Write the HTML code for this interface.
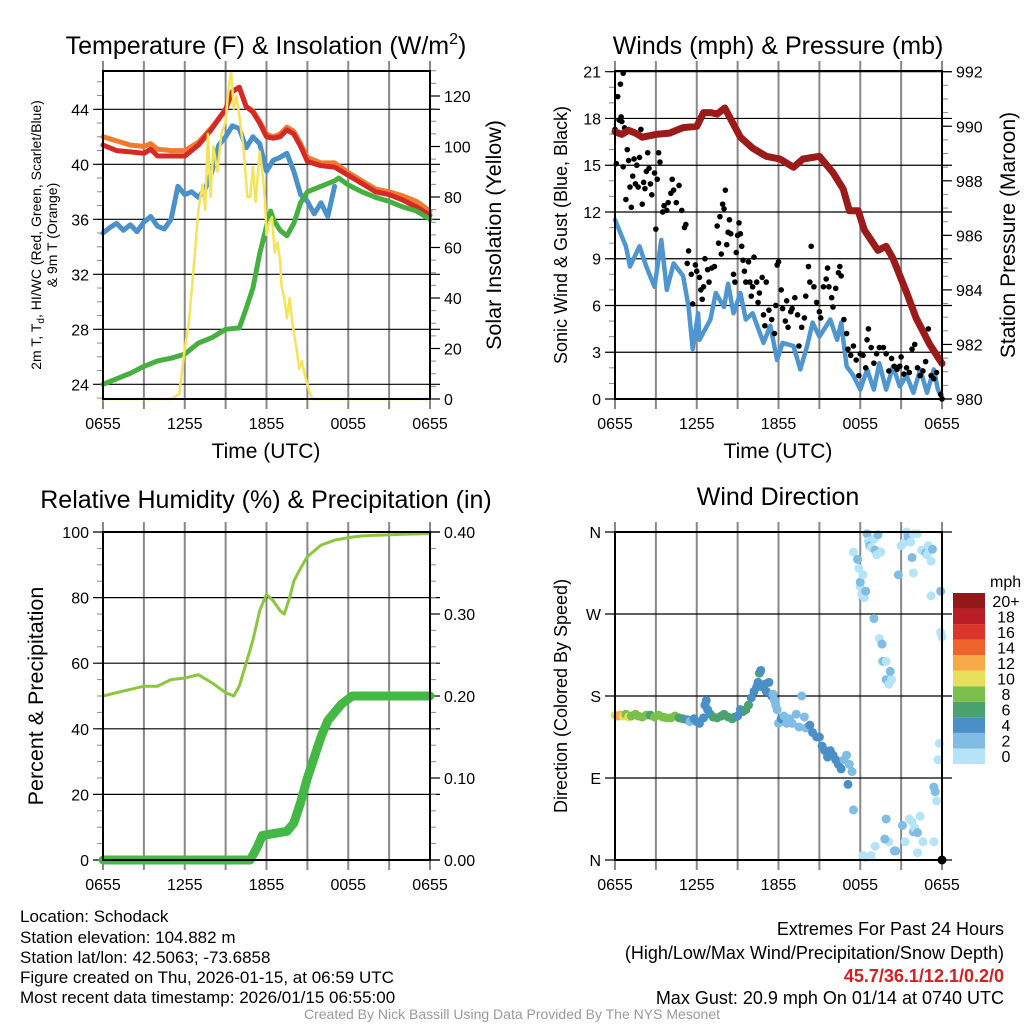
<!DOCTYPE html>
<html><head><meta charset="utf-8"><style>
body{margin:0;background:#fff;}
svg{display:block;font-family:"Liberation Sans",Arial,sans-serif;}
</style></head><body>
<svg id="c" width="1024" height="1024" viewBox="0 0 1024 1024">
<g id="g"></g>
<text x="266" y="54" font-size="25" text-anchor="middle">Temperature (F) &amp; Insolation (W/m<tspan dy="-10" font-size="16">2</tspan><tspan dy="10">)</tspan></text>
<text x="778" y="54" font-size="25" text-anchor="middle">Winds (mph) &amp; Pressure (mb)</text>
<text x="266" y="508" font-size="25" text-anchor="middle">Relative Humidity (%) &amp; Precipitation (in)</text>
<text x="778" y="505" font-size="25" text-anchor="middle">Wind Direction</text>
<text x="266" y="458" font-size="21" text-anchor="middle">Time (UTC)</text>
<text x="778" y="458" font-size="21" text-anchor="middle">Time (UTC)</text>
<text transform="translate(41,235) rotate(-90)" font-size="14" text-anchor="middle">2m T, T<tspan dy="3" font-size="10">d</tspan><tspan dy="-3">, HI/WC (Red, Green, Scarlet/Blue)</tspan></text>
<text transform="translate(57,235) rotate(-90)" font-size="14" text-anchor="middle">&amp; 9m T (Orange)</text>
<text transform="translate(501,235) rotate(-90)" font-size="21.5" text-anchor="middle">Solar Insolation (Yellow)</text>
<text transform="translate(567,235) rotate(-90)" font-size="18" text-anchor="middle">Sonic Wind &amp; Gust (Blue, Black)</text>
<text transform="translate(1015,235) rotate(-90)" font-size="21" text-anchor="middle">Station Pressure (Maroon)</text>
<text transform="translate(43,696) rotate(-90)" font-size="21.5" text-anchor="middle">Percent &amp; Precipitation</text>
<text transform="translate(567,696) rotate(-90)" font-size="18" text-anchor="middle">Direction (Colored By Speed)</text>
<text x="990" y="587" font-size="16">mph</text>
<g font-size="17">
<text x="20" y="922">Location: Schodack</text>
<text x="20" y="943">Station elevation: 104.882 m</text>
<text x="20" y="963">Station lat/lon: 42.5063; -73.6858</text>
<text x="20" y="983">Figure created on Thu, 2026-01-15, at 06:59 UTC</text>
<text x="20" y="1003">Most recent data timestamp: 2026/01/15 06:55:00</text>
</g>
<g font-size="18" text-anchor="end">
<text x="1004" y="935">Extremes For Past 24 Hours</text>
<text x="1004" y="959">(High/Low/Max Wind/Precipitation/Snow Depth)</text>
<text x="1004" y="982" fill="#d42020" font-weight="bold">45.7/36.1/12.1/0.2/0</text>
<text x="1004" y="1004">Max Gust: 20.9 mph On 01/14 at 0740 UTC</text>
</g>
<text x="512" y="1019" font-size="14" fill="#999" text-anchor="middle">Created By Nick Bassill Using Data Provided By The NYS Mesonet</text>
</svg>
<script>
// ---- data (hours since 0655 UTC) ----
const xTickLabels=["0655","1255","1855","0055","0655"];
const redH=[0,1,2,3,3.5,4,5,6,7,8,9,9.5,10,10.5,11,11.5,12,12.5,13,13.5,14,14.5,15,16,17,18,19,20,21,22,23,24];
const redV=[41.4,41,40.9,40.8,41.1,40.6,40.6,40.6,41.4,42.6,44,45.3,45.6,44.2,43.8,43.0,42,41.9,42,42.5,42.2,41.3,40.2,39.9,39.8,39.2,38.6,38,37.8,37.4,36.9,36.3];
const orangeV=[42,41.7,41.4,41.3,41.5,41.1,41,41,41.6,42.7,44,45.3,45.6,44.2,43.9,43.1,42.2,42,42.2,42.7,42.4,41.5,40.5,40.1,40.1,39.4,38.8,38.2,38,37.7,37.3,36.6];
const blueH=[0,0.5,1,1.5,2,2.5,3,3.5,4,4.5,5,5.5,6,6.5,7,7.5,8,8.5,9,9.5,10,10.5,11,11.5,12,12.5,13,13.5,14,14.5,15,15.5,16,16.5,17];
const blueV=[35,35.4,35.7,35.2,35.6,35.1,35.8,36.2,35.5,35.3,36,38.4,37.8,38,37.6,38.2,39.5,41.4,42,42.8,42.6,41.2,42,41.5,39.5,40.3,40.5,40.8,39.5,37.8,37.3,36.4,37.2,36.2,38.4];
const dewH=[0,1,2,3,4,5,6,7,8,9,10,10.5,11,11.5,12,12.3,12.5,13,13.5,14,14.5,15,16,17,17.3,18,19,20,21,22,23,24];
const dewV=[24,24.4,24.8,25.3,25.7,25.9,26.2,27,27.4,28,28.1,29.5,31,33.5,35.5,36.6,36,35.2,34.8,35.7,37.2,38,38.4,38.8,39,38.5,38,37.6,37.3,36.9,36.6,36];
const solH=[0,5,5.6,6,6.3,6.7,7,7.3,7.5,7.7,7.9,8.1,8.4,8.7,9,9.2,9.4,9.6,9.8,10,10.3,10.6,10.8,11,11.2,11.5,11.7,11.9,12,12.2,12.4,12.6,12.8,13,13.1,13.3,13.5,13.7,13.9,14.2,14.4,14.6,14.8,15.2,15.4,24];
const solV=[0,0,2,20,30,55,75,85,75,105,80,100,90,105,110,122,130,115,120,112,100,80,80,92,78,98,90,78,65,70,72,58,62,55,45,40,32,40,30,20,12,15,10,2,0,0];
const presH=[0,0.5,1,1.5,2,3,4,5,6,6.5,7,7.5,8.06,9.2,10.1,11.1,12.1,13.1,13.8,15,16,16.75,17.2,17.85,18.3,19.3,19.9,20.4,21.4,22.1,23.1,24];
const presV=[989.8,989.7,989.85,989.75,989.6,989.7,989.75,989.95,990.0,990.5,990.5,990.45,990.67,989.6,989.2,988.9,988.8,988.5,988.8,988.9,988.3,987.7,986.9,986.9,986.2,985.45,985.6,985.15,983.9,982.97,982.0,981.3];
const windH=[0,0.8,1.1,1.8,2.3,2.9,3.4,3.8,4.3,5,5.4,5.7,6.1,6.2,7,7.4,8,8.3,8.7,9.2,9.6,10.1,10.9,11.4,11.9,12.3,13.1,13.6,14.1,14.5,15,15.8,16.3,16.6,17,17.5,18,18.5,19,19.4,19.9,20.4,20.9,21.4,21.9,22.4,22.9,23.4,23.7,24];
const windV=[11.5,9.8,8.5,9.8,8.5,7.2,10.2,7.0,8.7,7.9,5.9,3.2,5.5,3.8,5.1,6.8,5.9,7.4,5.5,6.8,5.1,5.5,3.6,4.7,2.5,3.6,3.4,1.9,3.4,4.9,4.0,5.1,3.8,4.9,2.1,1.5,0.6,1.9,0.6,2.3,0.6,2.1,0.8,1.5,0.4,1.9,0.4,1.9,0.6,0.1];
const gustH=[0,0.1,0.2,0.3,0.4,0.45,0.6,0.7,0.5,0.6,0.8,0.9,1.0,1.1,1.2,1.3,1.4,1.5,1.6,1.7,1.8,1.9,2.0,2.1,2.2,2.3,2.4,2.5,2.6,2.7,2.9,3.0,3.1,3.2,3.3,3.5,3.6,3.8,3.9,4.1,4.2,4.3,4.5,4.7,4.9,5.1,5.2,5.3,5.4,5.6,5.7,5.9,6.0,6.2,6.3,6.4,6.5,6.6,6.8,6.9,7.1,7.3,7.5,7.6,7.7,7.8,7.9,8.0,8.1,8.2,8.3,8.4,8.5,8.7,8.8,8.9,9.0,9.1,9.2,9.3,9.4,9.5,9.6,9.8,9.9,10.0,10.1,10.2,10.4,10.5,10.6,10.8,10.9,11.0,11.1,11.3,11.5,11.7,11.8,11.9,12.0,12.2,12.3,12.5,12.6,12.7,12.9,13.0,13.2,13.4,13.5,13.7,13.9,14.0,14.2,14.3,14.4,14.6,14.8,15.0,15.1,15.3,15.5,15.6,15.7,15.9,16.0,16.2,16.4,16.5,16.6,16.8,17.0,17.1,17.3,17.5,17.7,17.9,18.0,18.2,18.4,18.5,18.6,18.8,19.0,19.2,19.4,19.7,19.9,20.1,20.3,20.5,20.7,20.9,21.0,21.2,21.4,21.6,21.8,22.0,22.2,22.4,22.6,22.8,23.0,23.2,23.4,23.6,23.9,24];
const gustV=[17.3,15.1,19.4,17.9,20.2,18.1,20.9,17.4,17.8,14.9,12.8,16,15.3,13.6,12.3,14.3,15.4,13.8,15,13.6,15.5,17.3,12.5,13.9,13.5,14.6,15.8,14.8,13.8,13.1,14.5,10.9,14.1,15.8,15.2,12.0,12.4,12.1,12.6,13.2,14.1,13.4,12.6,13.7,12.1,11.0,11.2,8.7,9.5,8.0,6.1,8.6,8.2,7.8,7.0,6.4,7.2,9.0,8.3,7.5,8.4,8.5,11.1,10.0,11.7,9.3,12.5,12.2,13.4,9.9,10.7,11.5,10.6,8.0,7.5,9.4,10.5,11.3,10.6,9.8,8.9,8.2,7.5,8.8,7.5,6.6,7.2,9.1,7.5,6.2,6.8,7.8,5.4,4.7,7.5,5.7,5.1,4.2,6.0,8.6,8.8,7.0,5.8,5.0,6.3,4.6,5.6,5.8,6.5,5.4,3.4,4.6,5.2,6.6,8.5,7.5,9.8,7.2,6.2,5.6,5.2,7.2,7.7,8.4,7.2,6.5,5.9,7.1,8.1,8.5,7.9,5.1,4.2,3.2,2.8,3.4,2.5,1.5,2.9,2.8,2.0,3.8,4.5,3.3,2.3,2.9,3.3,3.3,2.9,1.8,2.6,2.1,1.9,2.1,2.7,1.6,2.0,1.7,3.2,3.5,2.0,1.5,1.8,2.4,4.5,1.5,1.3,1.7,0.3,0];
const rhH=[0,1,2,3,4,4.5,5,6,7,8,9,9.6,10,10.5,11,11.5,12,12.5,13,13.3,13.7,14,14.5,15,16,17,18,19,20,22,24];
const rhV=[50,51,52,53,53,54,55,55.5,56.5,54,51,50,53,60,67,76,81,79,76,75,80,85,89,92.5,96,97.5,98.3,98.8,99,99.3,99.5];
const prH=[0,10.8,11.3,11.7,13.5,14,14.5,15,15.5,16,16.5,17,17.5,18.3,24];
const prV=[0,0,0.015,0.03,0.035,0.045,0.07,0.1,0.125,0.15,0.17,0.18,0.19,0.2,0.2];
const dirH=[0,0.2,0.4,0.6,0.8,1,1.2,1.5,1.7,2,2.3,2.6,2.9,3.2,3.5,3.8,4.1,4.4,4.7,5,5.3,5.5,5.8,6.0,6.2,6.5,6.6,6.7,6.8,7.0,7.2,7.5,7.8,8.0,8.3,8.6,8.8,9.0,9.2,9.4,9.6,9.8,10.0,10.2,10.4,10.5,10.6,10.7,10.8,11.0,11.1,11.3,11.5,11.6,11.7,11.8,11.9,12.0,12.2,12.4,12.6,12.8,13.0,13.3,13.5,13.7,13.9,14.0,14.3,14.5,14.8,15.0,15.2,15.4,15.6,15.8,16.0,16.2,16.4,16.6,16.8,17.0,17.2,17.4,17.1,17.5,17.5,17.8,17.9,18.0,18.1,18.0,18.2,18.3,18.4,18.5,18.6,18.7,18.8,19.0,19.1,19.2,19.3,19.5,19.0,19.4,19.6,19.6,19.7,19.9,19.9,20.1,20.3,20.2,20.8,21.0,21.2,21.4,21.5,21.7,21.9,21.8,21.9,22.2,22.5,22.8,22.9,23.0,23.1,23.2,23.3,23.2,23.9,23.9,24.0,20.1,19.9,19.8,18.8,19.1,18.2,18.4,20.5,20.6,21.1,21.3,21.6,21.8,21.9,22.0,22.2,22.4,22.2,22.6,23.4,23.6,23.4,23.5,23.7,23.8,24.0];
const dirDeg=[159,158,159,158,160,157,158,160,158,157,159,159,157,159,157,156,156,158,156,155,154,152,155,152,150,156,170,175,165,160,157,156,158,160,157,155,157,158,165,163,165,170,178,185,190,195,205,208,190,193,185,195,180,182,175,170,165,150,155,158,150,155,150,160,146,180,157,145,148,140,135,135,125,120,113,120,115,110,105,100,110,115,105,97,83,55,338,330,320,300,292,305,313,288,295,358,350,345,343,352,340,335,357,338,265,243,237,218,218,218,198,193,198,207,313,345,348,360,355,349,358,332,315,358,340,337,335,345,340,328,341,290,295,250,245,20,45,23,5,15,5,3,10,10,38,20,45,42,31,35,30,48,8,20,20,65,80,75,110,128,0];
const dirSpd=[11,12,13,10,9,10,8,9,8,9,8,7,8,9,8,8,8,8,7,6,4,3,4,4,4,4,4,4,4,4,6,6,6,7,6,6,6,5,4,4,6,6,4,4,4,4,6,4,4,4,4,4,4,3,2,2,3,2,4,3,3,2,3,2,3,2,3,3,4,4,4,4,4,4,4,4,4,4,4,4,3,2,2,2,4,3,1,2,1,1,1,2,1,1,2,2,1,2,1,1,2,1,3,1,3,1,2,1,2,1,2,1,1,2,3,1,1,1,2,1,1,2,1,0,1,2,1,1,1,1,3,1,2,1,1,1,2,3,1,1,1,1,2,3,2,1,1,1,2,1,3,1,1,1,1,1,2,2,1,1];
const speedColors=["#b5e3f7","#80bce4","#4a8fc6","#4aa36e","#7bc04b","#e8e05a","#f6aa47","#ef632c","#db3429","#b91d25","#921919"];
const speedLabels=["0","2","4","6","8","10","12","14","16","18","20+"];

const NS="http://www.w3.org/2000/svg";
const G=document.getElementById('g');
function el(t,a,p){const e=document.createElementNS(NS,t);for(const k in a)e.setAttribute(k,a[k]);(p||G).appendChild(e);return e;}
function panel(x0,x1,y0,y1){return {x0,x1,y0,y1,X:h=>x0+(x1-x0)*h/24};}
function lin(d0,d1,p0,p1){return v=>p0+(v-d0)/(d1-d0)*(p1-p0);}
function frame(P,name){
  const g=el('g',{});
  for(let h=0;h<=24;h+=3){const x=P.X(h);el('line',{x1:x,x2:x,y1:P.y0-10,y2:P.y1+10,stroke:'#888','stroke-width':2},g);}
  for(let i=0;i<5;i++){const t=el('text',{x:P.X(i*6),y:P.y1+30,'font-size':16,'text-anchor':'middle'},g);t.textContent=xTickLabels[i];}
  return g;
}
function yAxis(P,g,S,ticks,minor,side,fmt){
  const xe=side==='l'?P.x0:P.x1,d=side==='l'?-1:1;
  minor.forEach(v=>{const y=S(v);el('line',{x1:xe,x2:xe+d*6,y1:y,y2:y,stroke:'#888','stroke-width':1},g);});
  ticks.forEach(v=>{const y=S(v);
    if(side==='l')el('line',{x1:P.x0-10,x2:P.x1+10,y1:y,y2:y,stroke:'#000','stroke-width':1.2},g);
    else el('line',{x1:P.x1,x2:P.x1+10,y1:y,y2:y,stroke:'#000','stroke-width':1.2},g);
    const t=el('text',{x:xe+d*14,y:y+6,'font-size':16,'text-anchor':side==='l'?'end':'start'},g);t.textContent=fmt(v);});
}
function border(P){el('rect',{x:P.x0,y:P.y0,width:P.x1-P.x0,height:P.y1-P.y0,fill:'none',stroke:'#000','stroke-width':2});}
function line(P,H,V,S,col,w,name){const d=H.map((h,i)=>(i?'L':'M')+P.X(h).toFixed(1)+','+S(V[i]).toFixed(1)).join('');
  const p=el('path',{d,fill:'none',stroke:col,'stroke-width':w,'stroke-linejoin':'round','stroke-linecap':'round'});
  }
function rng(a,b,s){const r=[];for(let v=a;v<=b+1e-9;v+=s)r.push(+v.toFixed(3));return r;}

// Panel 1
const P1=panel(103,430,71,399);
const T1=lin(24,44,384.3,109.3), S1=lin(0,120,399,96);
let g=frame(P1,'temp');
yAxis(P1,g,T1,[24,28,32,36,40,44],rng(23,46,1),'l',v=>v);
yAxis(P1,g,S1,[0,20,40,60,80,100,120],rng(0,130,5),'r',v=>v);
line(P1,redH,orangeV,T1,'#f07a30',5,'orange-9m-temp-line');
line(P1,redH,redV,T1,'#d42a26',5,'red-2m-temp-line');
line(P1,blueH,blueV,T1,'#4b91c9',5,'blue-windchill-line');
line(P1,dewH,dewV,T1,'#45b040',5,'green-dewpoint-line');
line(P1,solH,solV,S1,'#f5e35a',2.5,'yellow-insolation-line');
border(P1);

// Panel 2
const P2=panel(615,942,71,399);
const W2=lin(0,21,399,71.7), R2=lin(980,992,399,71.7);
g=frame(P2,'wind');
yAxis(P2,g,W2,[0,3,6,9,12,15,18,21],rng(0,21,1),'l',v=>v);
yAxis(P2,g,R2,[980,982,984,986,988,990,992],rng(980,992,0.5),'r',v=>v);
line(P2,windH,windV,W2,'#4f96d0',4.5,'blue-sonic-wind-line');
gustH.forEach((h,i)=>{const c=el('circle',{cx:P2.X(h),cy:W2(gustV[i]),r:2.8,fill:'#000'});

});
line(P2,presH,presV,R2,'#9b1a1a',7,'maroon-pressure-line');
border(P2);

// Panel 3
const P3=panel(103,430,532,860);
const H3=lin(0,100,860,532), Q3=lin(0,0.4,860,532);
g=frame(P3,'rh');
yAxis(P3,g,H3,[0,20,40,60,80,100],rng(0,100,5),'l',v=>v);
yAxis(P3,g,Q3,[0,0.1,0.2,0.3,0.4],rng(0,0.4,0.02),'r',v=>v.toFixed(2));
line(P3,rhH,rhV,H3,'#8cc63f',3,'rh-line');
line(P3,prH,prV,Q3,'#44b844',9,'precip-line');
border(P3);

// Panel 4
const P4=panel(615,942,532,860);
const D4=lin(0,360,860,532);
g=frame(P4,'dir');
yAxis(P4,g,D4,[0,90,180,270,360],[],'l',v=>({0:'N',90:'E',180:'S',270:'W',360:'N'})[v]);
yAxis(P4,g,D4,[],[],'r',v=>v);
dirH.forEach((h,i)=>{const k=Math.min(10,Math.floor(dirSpd[i]/2));
const c=el('circle',{cx:P4.X(h),cy:D4(dirDeg[i]),r:4.5,fill:speedColors[k]});

});
border(P4);
// colorbar
speedColors.forEach((col,i)=>{const bh=171/11,y=764-(i+1)*bh;
const r=el('rect',{x:953,y:y,width:32,height:bh,fill:col});


const t=el('text',{x:1006,y:y+bh/2+6,'font-size':16,'text-anchor':'middle'});t.textContent=speedLabels[i];});
</script>
</body></html>
